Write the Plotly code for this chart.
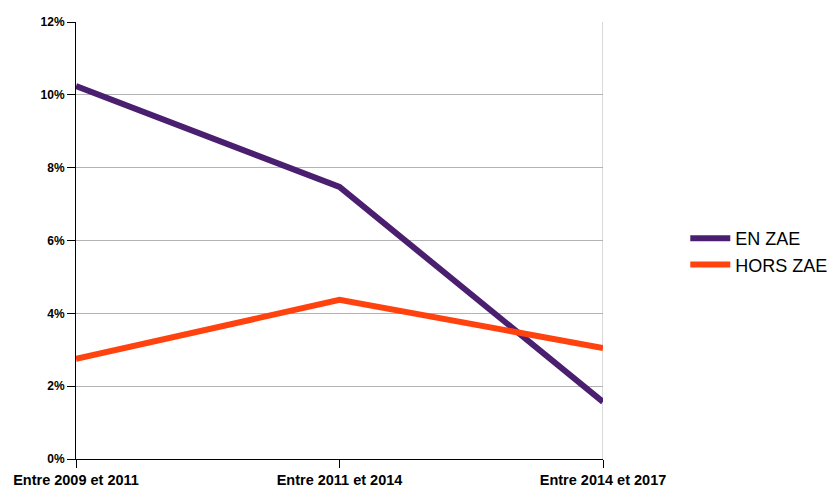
import plotly.graph_objects as go

periodes = ["Entre 2009 et 2011", "Entre 2011 et 2014", "Entre 2014 et 2017"]
en_zae = [10.24, 7.47, 1.57]
hors_zae = [2.75, 4.37, 3.05]
y_ticks = [0, 2, 4, 6, 8, 10, 12]
y_labels = [f"<b>{v}%</b>" for v in y_ticks]

x_pos = list(range(len(periodes)))

fig = go.Figure()
fig.add_trace(go.Scatter(x=x_pos, y=en_zae, mode="lines", name="EN ZAE",
                         line=dict(color="#4b1f6f", width=6)))
fig.add_trace(go.Scatter(x=x_pos, y=hors_zae, mode="lines", name="HORS ZAE",
                         line=dict(color="#ff420e", width=6)))

# bordure droite grise
fig.add_shape(type="line", xref="x", yref="y", x0=2, x1=2, y0=0, y1=12,
              line=dict(color="#b3b3b3", width=1), layer="below")

fig.update_layout(
    width=830, height=480,
    margin=dict(l=68, r=235, t=14, b=29),
    paper_bgcolor="white", plot_bgcolor="white",
    font=dict(family="Liberation Sans, Arial, sans-serif", color="#000000"),
    showlegend=True,
    legend=dict(xref="container", yref="paper", x=0.816, y=0.475,
                xanchor="left", yanchor="middle",
                font=dict(size=18), tracegroupgap=0, itemwidth=40),
    xaxis=dict(range=[0, 2], tickvals=x_pos,
               ticktext=[f"<b>{p}</b>" for p in periodes],
               showgrid=False, zeroline=False, showline=True, linecolor="#000000",
               ticks="outside", ticklen=8, tickcolor="#000000",
               tickfont=dict(size=14.5), automargin=False),
    yaxis=dict(range=[0, 12], tickvals=y_ticks, ticktext=y_labels,
               showgrid=True, gridcolor="#b3b3b3", gridwidth=1, zeroline=False,
               showline=True, linecolor="#000000",
               ticks="outside", ticklen=8, tickcolor="#000000",
               tickfont=dict(size=12), automargin=False),
)

fig.write_html("out.html")
